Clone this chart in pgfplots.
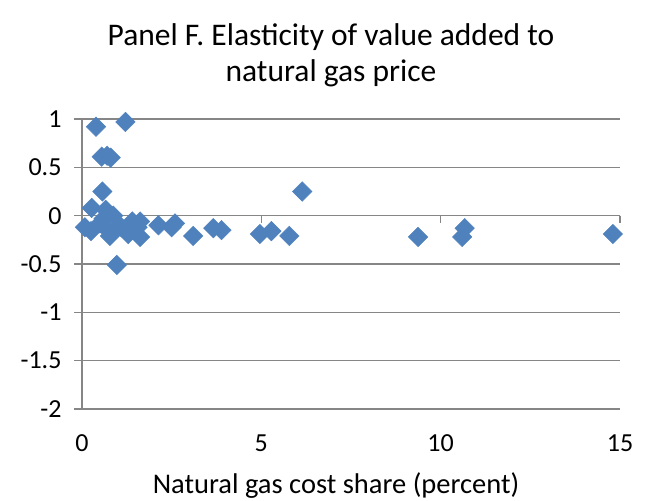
\documentclass[border=0pt]{standalone}
\usepackage{pgfplots}
\pgfplotsset{compat=1.18}
\usepackage{fontspec}
\setmainfont{Carlito}
\definecolor{mblue}{HTML}{4F81BD}
\definecolor{agray}{HTML}{868686}
\begin{document}
\begin{tikzpicture}[x=1pt,y=1pt]
\useasboundingbox (0,0) rectangle (647,500);
\begin{axis}[
  at={(82pt,91pt)}, anchor=south west,
  scale only axis, width=538pt, height=290pt,
  xmin=0, xmax=15, ymin=-2, ymax=1,
  axis x line*=bottom, axis y line*=left,
  x axis line style={draw=none},
  y axis line style={agray, line width=1.3pt, -},
  xtick={0,5,10,15}, xticklabels={0,5,10,15},
  ytick={-2,-1.5,-1,-0.5,0,0.5,1},
  yticklabels={-2,-1.5,-1,-0.5,0,0.5,1},
  x tick style={draw=none},
  y tick style={agray, line width=1.3pt},
  tick align=outside, major tick length=8pt,
  ymajorgrids, grid style={agray, line width=1.3pt},
  ticklabel style={font=\fontsize{26}{31}\selectfont, text=black},
  yticklabel style={xshift=-9pt},
  xticklabel style={yshift=-14pt},
  clip=false,
]
\draw[agray, line width=1.3pt] (axis cs:0,0) -- (axis cs:15,0);
\draw[agray, line width=1.3pt] (axis cs:5,0) -- (axis cs:5,-0.072);
\draw[agray, line width=1.3pt] (axis cs:10,0) -- (axis cs:10,-0.072);
\draw[agray, line width=1.3pt] (axis cs:15,0) -- (axis cs:15,-0.072);
\addplot[only marks, mark=square*, mark size=6.9pt, mark options={rotate=45, fill=mblue, draw=mblue}]
coordinates {
(0.39,0.92) (1.21,0.97) (0.55,0.61) (0.70,0.62) (0.80,0.60)
(0.57,0.25) (0.27,0.08) (0.66,0.06) (0.87,0.00)
(0.08,-0.12) (0.25,-0.16) (0.50,-0.08) (0.60,-0.03) (0.78,-0.21)
(0.72,-0.15) (0.97,-0.13) (1.10,-0.12) (1.29,-0.19) (1.40,-0.06)
(1.62,-0.06) (1.62,-0.22) (1.55,-0.12) (2.13,-0.10) (2.59,-0.08)
(2.50,-0.12) (3.10,-0.21) (3.66,-0.13) (3.89,-0.15) (4.96,-0.19)
(5.28,-0.16) (5.78,-0.21) (6.14,0.25) (9.37,-0.22) (10.67,-0.13)
(10.60,-0.22) (14.80,-0.19) (0.97,-0.51)
};
\end{axis}
\node[align=center, font=\fontsize{31.5}{36}\selectfont] at (331,445) {Panel F. Elasticity of value added to\\natural gas price};
\node[font=\fontsize{28.5}{33}\selectfont] at (336,14) {Natural gas cost share (percent)};
\end{tikzpicture}
\end{document}
